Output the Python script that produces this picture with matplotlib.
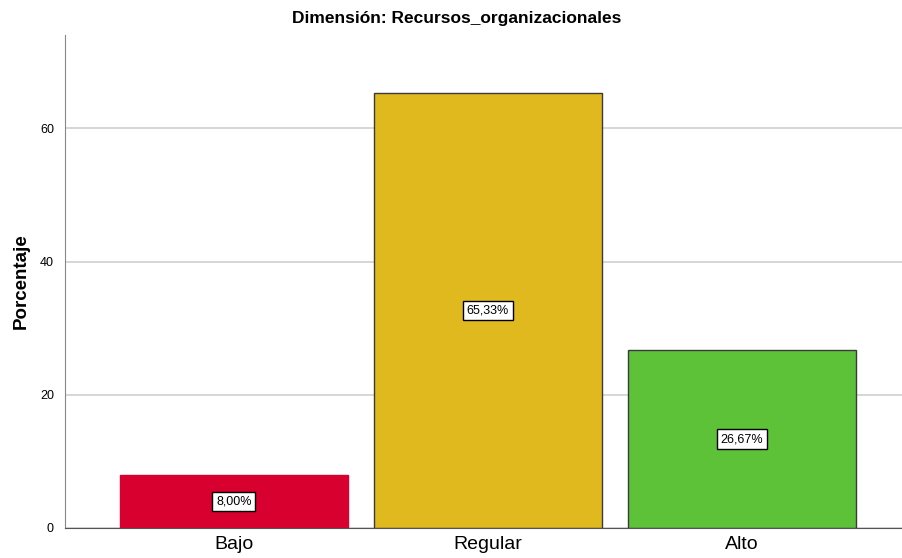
import matplotlib
matplotlib.use("Agg")
import matplotlib.pyplot as plt

categories = ["Bajo", "Regular", "Alto"]
values = [8.00, 65.33, 26.67]
labels = ["8,00%", "65,33%", "26,67%"]
colors = ["#D7002F", "#E0B91F", "#5EC239"]
edges = ["#D7002F", "#3a3a3a", "#3a3a3a"]
yticks = [0, 20, 40, 60]

plt.rcParams['font.family'] = ['Liberation Sans', 'DejaVu Sans']

fig = plt.figure(figsize=(9.03, 5.58), dpi=100)
ax = fig.add_axes([65/903, 30/558, 1 - 65/903, (528-35)/558])

x = list(range(len(categories)))
ax.set_axisbelow(True)
ax.yaxis.grid(True, color="#d0d0d0", linewidth=1.2)
ax.bar(x, values, width=0.898, color=colors, edgecolor=edges, linewidth=1.0, zorder=2)
for xi, v, lab in zip(x, values, labels):
    ax.text(xi, v/2, lab, ha="center", va="center", fontsize=9, zorder=3,
            bbox=dict(boxstyle="square,pad=0.3", facecolor="white", edgecolor="black", linewidth=1.0))

ax.set_xlim(-0.665, 2.634)
ax.set_ylim(0, 74)
ax.set_yticks(yticks)
ax.set_yticklabels([str(t) for t in yticks], fontsize=9)
ax.set_xticks(x)
ax.set_xticklabels(categories, fontsize=14)
ax.tick_params(axis="y", length=0, pad=8)
ax.tick_params(axis="x", length=0, pad=6)
for s in ["top", "right"]:
    ax.spines[s].set_visible(False)
ax.spines["left"].set_color("#888888")
ax.spines["bottom"].set_color("#555555")
ax.set_ylabel("Porcentaje", fontsize=13.5, fontweight="bold", labelpad=7)
fig.text(457/903, 1 - 19/558, "Dimensión: Recursos_organizacionales", ha="center", va="center",
         fontsize=12.5, fontweight="bold")

fig.savefig("out.png", dpi=100)
